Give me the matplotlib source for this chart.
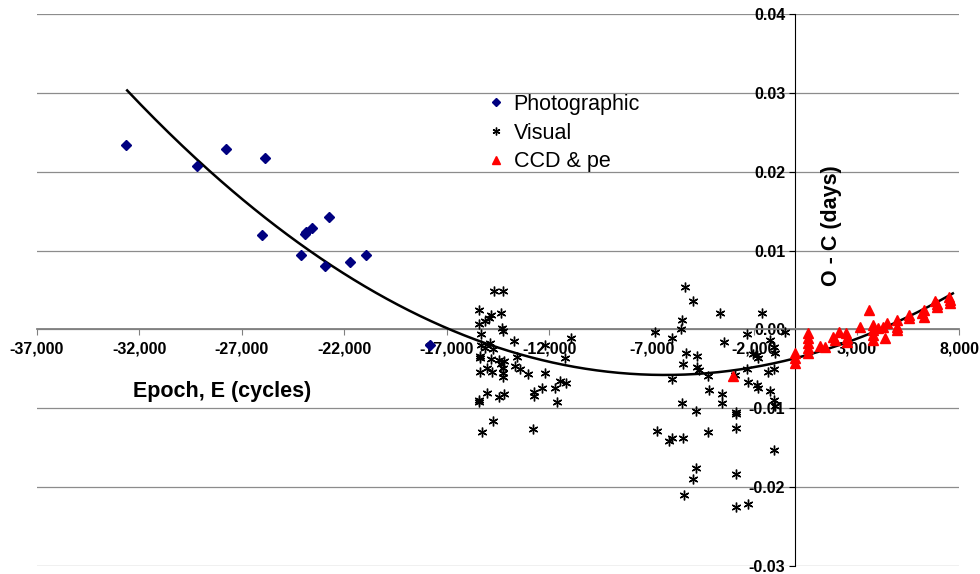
import numpy as np
import matplotlib
matplotlib.use("Agg")
import matplotlib.pyplot as plt
from matplotlib.ticker import FuncFormatter

plt.rcParams["font.family"] = ["Liberation Sans", "DejaVu Sans"]
plt.rcParams["font.weight"] = "bold"

# Photographic timings (epoch, O-C in days)
photo_e = [-32640, -29190, -27780, -25870, -26020, -24120, -23940, -23890, -23570,
           -22740, -22920, -21710, -20960, -17840]
photo_oc = [0.0234, 0.0207, 0.0229, 0.0218, 0.0120, 0.0095, 0.0121, 0.0123, 0.0129,
            0.0142, 0.0081, 0.0085, 0.0095, -0.0020]

# Visual timings
vis_e = [-14680, -14260, -15420, -14830, -14360, -14960, -15120, -15420, -14310, -14280,
         -15320, -13740, -14890, -15350, -12230, -10960, -15120, -14720, -15380, -15380,
         -13550, -11220, -14830, -14470, -14230, -14340, -13660, -15060, -14280, -13430,
         -15380, -14800, -14250, -13060, -12200, -14250, -11460, -11170, -12330, -11740,
         -15040, -14210, -14430, -12730, -12750, -15420, -15420, -11600, -14720, -15260,
         -12780,
         -5360, -4960, -5540, -5570, -6830, -6010, -5330, -4780, -5450, -4790,
         -4700, -4230, -6000, -4190, -5540, -4860, -6740, -6000, -6130, -5450,
         -4260, -4860, -4960, -5400,
         -3660, -1620, -2350, -480, -3490, -1220, -1050, -970, -1860, -1790,
         -2030, -2350, -1300, -1050, -2920, -2300, -1860, -1790, -1220, -3570,
         -3570, -1050, -970, -2890, -2890, -2890, -1010, -2890, -2890, -2320]
vis_oc = [0.00488, 0.00488, 0.00252, 0.00180, 0.00206, 0.00139, 0.00105, 0.00067, 0.00013, -0.00021,
          -0.00063, -0.00143, -0.00177, -0.00198, -0.00198, -0.00114, -0.00240, -0.00252, -0.00332, -0.00366,
          -0.00353, -0.00366, -0.00379, -0.00391, -0.00400, -0.00442, -0.00458, -0.00483, -0.00492, -0.00501,
          -0.00546, -0.00534, -0.00555, -0.00568, -0.00555, -0.00597, -0.00652, -0.00681, -0.00745, -0.00745,
          -0.00808, -0.00820, -0.00858, -0.00799, -0.00849, -0.00892, -0.00921, -0.00925, -0.01157, -0.01304,
          -0.01258,
          0.00539, 0.00357, 0.00122, 0.00004, -0.00029, -0.00114, -0.00303, -0.00341, -0.00438, -0.00471,
          -0.00514, -0.00593, -0.00631, -0.00770, -0.00930, -0.01031, -0.01291, -0.01376, -0.01417, -0.01376,
          -0.01300, -0.01754, -0.01897, -0.02099,
          0.00202, 0.00202, -0.00059, -0.00029, -0.00155, -0.00135, -0.00218, -0.00303, -0.00324, -0.00366,
          -0.00312, -0.00505, -0.00534, -0.00505, -0.00577, -0.00673, -0.00703, -0.00745, -0.00786, -0.00820,
          -0.00934, -0.00892, -0.00976, -0.01047, -0.01073, -0.01249, -0.01531, -0.01839, -0.02246, -0.02217]

# CCD & photoelectric timings
ccd_e = [-3020, 0, 20, 20, 650, 650, 650, 650, 650, 1230, 1470, 1870, 1960, 2120, 2490,
         2530, 2510, 3180, 3620, 3800, 3800, 3800, 3800, 4070, 4310, 4400, 4480, 4970,
         4970, 4970, 5580, 5580, 6190, 6270, 6270, 6840, 6920, 6920, 7490, 7540, 7540]
ccd_oc = [-0.00593, -0.00303, -0.00366, -0.00420, -0.00050, -0.00114, -0.00177, -0.00240,
          -0.00303, -0.00206, -0.00218, -0.00092, -0.00135, -0.00038, -0.00050, -0.00114,
          -0.00160, 0.00034, 0.00244, 0.00055, -0.00009, -0.00072, -0.00135, 0.00013,
          0.00034, -0.00114, 0.00076, 0.00117, 0.00034, -0.00009, 0.00139, 0.00180,
          0.00202, 0.00160, 0.00244, 0.00357, 0.00286, 0.00320, 0.00413, 0.00370, 0.00330]

# quadratic ephemeris fit (c2, c1, c0) and its epoch range
fit_coef = [5.237e-11, 6.653e-7, -3.66e-3]
fit_range = [-32600, 7700]

x_ticks = np.arange(-37000, 8001, 5000)
y_ticks = np.arange(-0.03, 0.0401, 0.01)

fig = plt.figure(figsize=(9.8, 5.74), dpi=100)
ax = fig.add_axes([37 / 980, 1 - 566 / 574, (959 - 37) / 980, (566 - 14) / 574])

fit_e = np.linspace(fit_range[0], fit_range[1], 300)
ax.plot(fit_e, np.polyval(fit_coef, fit_e), color="black", lw=1.8, zorder=3)

ax.plot(photo_e, photo_oc, linestyle="none", marker="D", ms=5, color="#000080",
        label="Photographic", zorder=4)
ax.plot(vis_e, vis_oc, linestyle="none", marker=(6, 2, 0), ms=7, mew=1.0, color="black",
        label="Visual", zorder=4)
ax.plot(ccd_e, ccd_oc, linestyle="none", marker="^", ms=6.5, color="#ff0000",
        label="CCD & pe", zorder=4)

ax.set_xlim(-37000, 8000)
ax.set_ylim(-0.03, 0.04)
ax.set_xticks(x_ticks)
ax.set_yticks(y_ticks)
ax.xaxis.set_major_formatter(FuncFormatter(lambda v, p: f"{v:,.0f}"))
ax.yaxis.set_major_formatter(FuncFormatter(lambda v, p: f"{v:.2f}"))
ax.yaxis.grid(True, color="#8c8c8c", lw=0.9)
ax.set_axisbelow(True)

ax.spines["top"].set_visible(False)
ax.spines["right"].set_visible(False)
ax.spines["left"].set_position(("data", 0))
ax.spines["bottom"].set_position(("data", 0))
ax.spines["left"].set_color("black")
ax.spines["bottom"].set_color("#808080")
ax.spines["bottom"].set_linewidth(1.3)
ax.tick_params(axis="x", direction="out", length=4, color="#808080", pad=5, labelsize=11.5)
ax.tick_params(axis="y", direction="out", length=4, color="black", pad=3, labelsize=11.5)

fig.text(222 / 980, 1 - 391 / 574, "Epoch, E (cycles)", ha="center", va="center",
         fontsize=15.5, fontweight="bold")
fig.text(831 / 980, 1 - 226 / 574, "O - C (days)", ha="center", va="center",
         rotation=90, fontsize=15.5, fontweight="bold")

ax.legend(loc="upper left", bbox_to_anchor=(490 / 980, 1 - 94 / 574),
          bbox_transform=fig.transFigure, frameon=False, handlelength=0.6,
          handletextpad=0.5, labelspacing=0.35, borderpad=0, borderaxespad=0,
          markerscale=0.8, prop={"size": 15.5, "weight": "normal"})

fig.savefig("out.png", dpi=100)
